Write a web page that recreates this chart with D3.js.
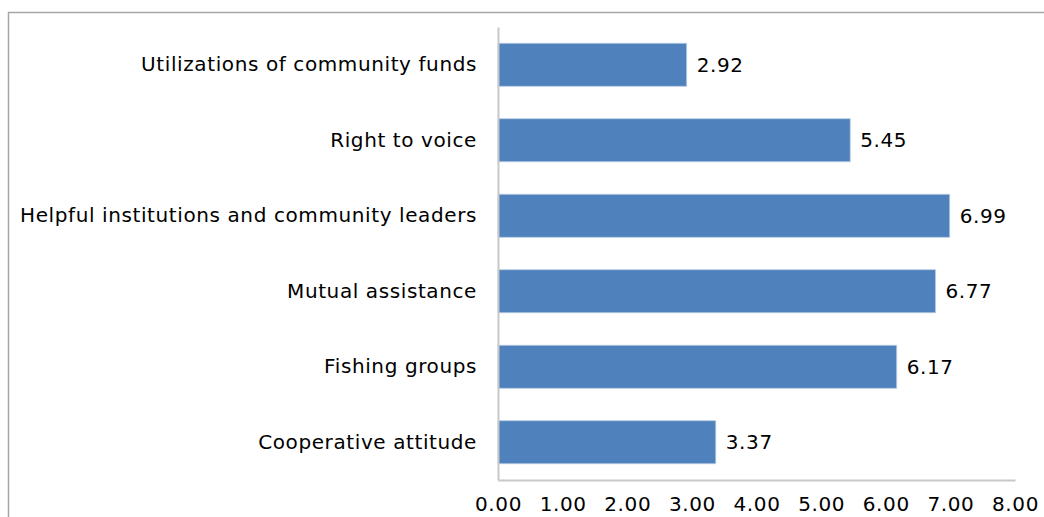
<!DOCTYPE html>
<html>
<head>
<meta charset="utf-8">
<script src="https://cdn.jsdelivr.net/npm/d3@7"></script>
<style>
  html, body { margin: 0; padding: 0; background: #fff; }
  svg { display: block; font-family: "DejaVu Sans", Verdana, sans-serif; }
</style>
</head>
<body>
<svg id="chart" width="1044" height="517"></svg>
<script>
// Index scores per social-capital indicator
const categories = [
  "Utilizations of community funds",
  "Right to voice",
  "Helpful institutions and community leaders",
  "Mutual assistance",
  "Fishing groups",
  "Cooperative attitude"
];
const values = [2.92, 5.45, 6.99, 6.77, 6.17, 3.37];
const xTicks = [0, 1, 2, 3, 4, 5, 6, 7, 8];

const svg = d3.select("#chart");
const W = 1044, H = 517;
const plot = { left: 498, right: 1015, top: 27, bottom: 480 };
const fontSize = 20;

// outer chart frame (extends past the right and bottom edges)
svg.append("rect")
  .attr("x", 8.5).attr("y", 12.5)
  .attr("width", W + 10).attr("height", H + 10)
  .attr("fill", "none").attr("stroke", "#a6a6a6").attr("stroke-width", 1.5);

const x = d3.scaleLinear().domain([0, 8]).range([plot.left, plot.right]);
const y = d3.scaleBand().domain(categories).range([plot.top, plot.bottom]).paddingInner(0.43).paddingOuter(0.215);

// bars
svg.append("g").selectAll("rect")
  .data(categories)
  .join("rect")
  .attr("x", x(0))
  .attr("y", d => y(d))
  .attr("width", (d, i) => x(values[i]) - x(0))
  .attr("height", y.bandwidth())
  .attr("fill", "#4f81bd")
  .attr("stroke", "#b9cde5").attr("stroke-width", 0.8);

// value labels
svg.append("g").selectAll("text")
  .data(categories)
  .join("text")
  .attr("x", (d, i) => x(values[i]) + 10)
  .attr("y", d => y(d) + y.bandwidth() / 2)
  .attr("dy", "0.35em")
  .attr("font-size", fontSize)
  .attr("letter-spacing", 0.6)
  .attr("fill", "#000")
  .text((d, i) => values[i].toFixed(2));

// x axis
const xAxis = svg.append("g")
  .attr("transform", `translate(0,${plot.bottom})`)
  .call(d3.axisBottom(x).tickValues(xTicks).tickFormat(d3.format(".2f")).tickSize(0).tickPadding(17));
xAxis.select(".domain").attr("stroke", "#c8c8c8").attr("stroke-width", 2);
xAxis.selectAll("text").attr("font-size", fontSize).attr("letter-spacing", 0.6).attr("fill", "#000")
  .attr("font-family", "DejaVu Sans, Verdana, sans-serif");

// y axis
const yAxis = svg.append("g")
  .attr("transform", `translate(${plot.left},0)`)
  .call(d3.axisLeft(y).tickSize(0).tickPadding(21));
yAxis.select(".domain").attr("stroke", "#c8c8c8").attr("stroke-width", 2);
yAxis.selectAll("text").attr("font-size", fontSize).attr("letter-spacing", 0.6).attr("fill", "#000")
  .attr("font-family", "DejaVu Sans, Verdana, sans-serif");
</script>
</body>
</html>
